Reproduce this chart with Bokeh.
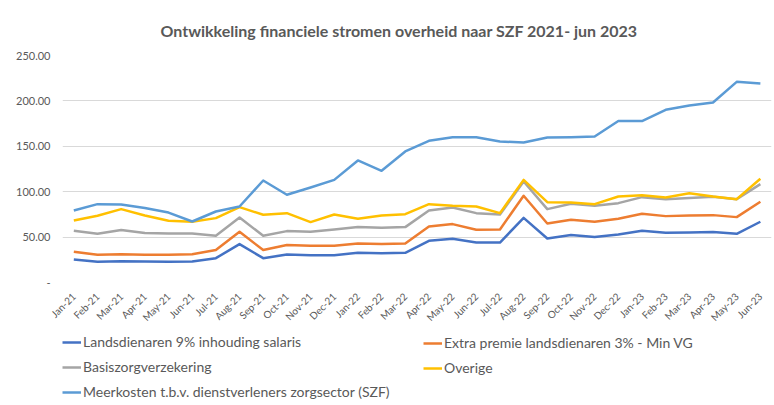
from math import pi
from bokeh.plotting import figure
from bokeh.layouts import column
from bokeh.models import FixedTicker, Range1d, Legend, LegendItem, Label
from bokeh.embed import file_html
from bokeh.resources import INLINE

months = ["Jan-21", "Feb-21", "Mar-21", "Apr-21", "May-21", "Jun-21", "Jul-21", "Aug-21",
          "Sep-21", "Oct-21", "Nov-21", "Dec-21", "Jan-22", "Feb-22", "Mar-22", "Apr-22",
          "May-22", "Jun-22", "Jul-22", "Aug-22", "Sep-22", "Oct-22", "Nov-22", "Dec-22",
          "Jan-23", "Feb-23", "Mar-23", "Apr-23", "May-23", "Jun-23"]

landsdienaren = [25.3, 22.8, 23.5, 23.1, 22.8, 23.1, 26.8, 42.3, 26.8, 30.8, 30.1, 30.1,
                 32.7, 32.3, 32.7, 45.9, 48.1, 44.0, 44.0, 71.2, 48.5, 52.2, 50.0, 52.9,
                 56.9, 54.7, 55.1, 55.5, 53.6, 66.9]
extra_premie = [33.8, 30.5, 31.2, 30.5, 30.5, 31.2, 35.7, 55.8, 35.7, 41.2, 40.4, 40.4,
                43.0, 42.3, 43.0, 61.7, 64.3, 58.0, 58.4, 95.5, 65.0, 69.0, 66.9, 70.2,
                75.7, 73.1, 73.8, 74.2, 72.0, 88.9]
basiszorg = [57.0, 53.6, 57.7, 54.4, 54.0, 54.0, 51.4, 71.6, 51.4, 56.6, 55.8, 58.4,
             61.0, 60.2, 61.0, 79.3, 82.6, 76.4, 74.9, 111.2, 80.8, 86.7, 84.5, 87.4,
             94.0, 91.8, 93.0, 94.4, 91.8, 108.4]
overige = [68.3, 73.5, 80.8, 73.8, 68.0, 66.9, 70.9, 83.0, 74.6, 76.4, 66.5, 74.9,
           70.2, 73.8, 75.3, 86.3, 84.5, 83.7, 76.4, 113.0, 88.5, 88.0, 86.3, 94.7,
           96.2, 93.6, 98.4, 94.7, 91.8, 114.2]
meerkosten = [79.3, 86.3, 86.0, 82.0, 77.0, 67.2, 78.2, 83.7, 112.3, 96.6, 104.6, 113.0,
              134.4, 123.0, 144.3, 156.0, 160.0, 160.0, 155.3, 154.2, 159.7, 160.0, 160.8, 177.8,
              177.8, 190.2, 195.0, 198.3, 221.0, 219.2]

series_names = ["Landsdienaren 9% inhouding salaris",
                "Extra premie landsdienaren 3% - Min VG",
                "Basiszorgverzekering",
                "Overige",
                "Meerkosten t.b.v. dienstverleners zorgsector (SZF)"]
series_values = [landsdienaren, extra_premie, basiszorg, overige, meerkosten]
series_colors = ["#4472C4", "#ED7D31", "#A5A5A5", "#FFC000", "#5B9BD5"]

y_ticks = [0, 50, 100, 150, 200, 250]
y_tick_labels = ["-", "50.00", "100.00", "150.00", "200.00", "250.00"]

title_text = "Ontwikkeling financiele stromen overheid naar SZF 2021- jun 2023"

FONT = "Lato"
TXT = "#595959"

x = list(range(len(months)))


def blank_panel(height):
    f = figure(width=774, height=height, output_backend="svg", toolbar_location=None,
               x_axis_type=None, y_axis_type=None, x_range=Range1d(0, 1), y_range=Range1d(0, 1),
               min_border=0, min_border_left=62, min_border_right=3,
               min_border_top=0, min_border_bottom=0)
    f.outline_line_color = None
    f.xgrid.visible = False
    f.ygrid.visible = False
    return f


# title panel
tp = blank_panel(47)
tp.add_layout(Label(x=98, y=17, x_units="screen", y_units="screen", text=title_text,
                    text_font=FONT, text_font_size="16px", text_font_style="bold",
                    text_color=TXT, text_baseline="middle", text_align="left"))

# main chart
p = figure(width=774, height=283, output_backend="svg", toolbar_location=None,
           x_range=Range1d(-0.478, len(months) - 0.53), y_range=Range1d(0, 250),
           min_border_left=62, min_border_right=3, min_border_top=8, min_border_bottom=47)

p.outline_line_color = None
p.xgrid.grid_line_color = None
p.ygrid.grid_line_color = "#D9D9D9"
p.ygrid.grid_line_width = 1

p.yaxis.ticker = FixedTicker(ticks=y_ticks)
p.yaxis.major_label_overrides = {t: l for t, l in zip(y_ticks, y_tick_labels)}
p.yaxis.axis_line_color = None
p.yaxis.major_tick_line_color = None
p.yaxis.minor_tick_line_color = None
p.yaxis.major_tick_out = 0
p.yaxis.major_label_text_font = FONT
p.yaxis.major_label_text_font_size = "11px"
p.yaxis.major_label_text_color = TXT
p.yaxis.major_label_standoff = 12

p.xaxis.ticker = FixedTicker(ticks=x)
p.xaxis.major_label_overrides = {i: m for i, m in enumerate(months)}
p.xaxis.major_label_orientation = pi / 4
p.xaxis.axis_line_color = None
p.xaxis.major_tick_line_color = None
p.xaxis.minor_tick_line_color = None
p.xaxis.major_tick_out = 0
p.xaxis.major_label_text_font = FONT
p.xaxis.major_label_text_font_size = "10px"
p.xaxis.major_label_text_color = TXT
p.xaxis.major_label_standoff = 12

for name, vals, col in zip(series_names, series_values, series_colors):
    p.line(x, vals, line_color=col, line_width=2.5, line_join="round")

# legend panel below the chart
lp = blank_panel(75)

# off-range stand-in renderers that only carry the legend swatch styles
dummy = [lp.line([-10, -9], [-10, -9], line_color=c, line_width=2.5) for c in series_colors]


def make_legend(idx, loc):
    lg = Legend(items=[LegendItem(label=series_names[i], renderers=[dummy[i]]) for i in idx],
                location=loc, orientation="vertical")
    lg.label_text_font = FONT
    lg.label_text_font_size = "14px"
    lg.label_text_color = TXT
    lg.glyph_width = 19
    lg.glyph_height = 16
    lg.label_height = 16
    lg.label_standoff = 2
    lg.spacing = 8
    lg.padding = 0
    lg.margin = 0
    lg.border_line_color = None
    lg.background_fill_alpha = 0
    return lg


lp.add_layout(make_legend([0, 2, 4], (0, 5)), "center")
lp.add_layout(make_legend([1, 3], (361, 29)), "center")

layout = column(tp, p, lp, spacing=0)
open("out.html", "w").write(file_html(layout, INLINE))
